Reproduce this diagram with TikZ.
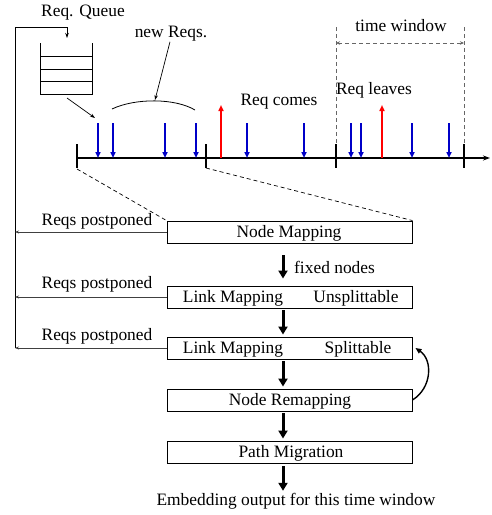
\documentclass[tikz,border=0pt]{standalone}
\usepackage{fontspec}
\setmainfont{Liberation Serif}
\usetikzlibrary{arrows.meta,calc}
\begin{document}
\begin{tikzpicture}[x=1pt,y=-1pt,
  txt/.style={font=\fontsize{17.4}{20}\selectfont, inner sep=0pt},
  box/.style={draw, line width=0.9pt, minimum width=245pt, minimum height=22pt, inner sep=0pt},
  thickarr/.style={line width=3pt, -{Triangle[length=8pt,width=9pt]}},
  bluearr/.style={draw={rgb,255:red,0;green,0;blue,200}, line width=1.5pt, -{Triangle[length=6pt,width=5pt]}},
  redarr/.style={draw=red, line width=1.5pt, -{Triangle[length=6pt,width=5pt]}},
  thinarr/.style={line width=0.7pt, -{Stealth[length=5pt,width=3.5pt]}},
  postarr/.style={draw=black!75, line width=0.8pt, -{Stealth[length=4pt,width=3pt]}},
  projdash/.style={line width=0.7pt, dash pattern=on 4pt off 3pt},
  twdash/.style={draw=black!60, line width=1pt, dash pattern=on 4pt off 3pt},
]
\useasboundingbox (0,0) rectangle (491,515);

% --- queue and feedback line ---
\node[txt] (rq) at (83,13) {Req. Queue};
\coordinate (fbtop) at (15,27);
\coordinate (fbcorner) at (67,27);
\coordinate (qin) at (67,38);
\coordinate (fbbot) at (15,348);
\draw[line width=0.8pt] (fbbot) -- (fbtop) -- (fbcorner);
\draw[thinarr] (fbcorner) -- (qin);
\draw[line width=1pt] (40,43) -- (40,94) -- (92,94) -- (92,43);
\foreach \yy in {56,69,81} \draw[line width=1pt] (40,\yy) -- (92,\yy);
\coordinate (qout) at (67,98);
\coordinate (qtarget) at (95,118);
\draw[thinarr] (qout) -- (qtarget);

% --- new Reqs ---
\node[txt] (nrq) at (171,34) {new Reqs.};
\coordinate (arcpeak) at (155,100);
\draw[line width=0.8pt] (112,109) .. controls (135,98) and (175,98) .. (195,110);
\draw[thinarr] ($(nrq.south)+(-1,0)$) -- (arcpeak);

% --- timeline ---
\coordinate (t0) at (77,158);
\coordinate (tend) at (490,158);
\draw[line width=1.2pt, -{Stealth[length=7pt,width=5pt]}] (t0) -- (tend);
\foreach \xx in {77,206,336,464} \draw[line width=1.2pt] (\xx,144) -- (\xx,168);
\foreach \xx in {98,113,165,196,247,304,351,361,412,449}
  \draw[bluearr] (\xx,123) -- (\xx,158);
\foreach \xx in {221,382}
  \draw[redarr] (\xx,158) -- (\xx,105);
\node[txt] (rc) at (279,102) {Req comes};
\node[txt] (rl) at (374,90) {Req leaves};

% --- time window ---
\node[txt] (tw) at (401,26) {time window};
\draw[twdash] (336,27) -- (336,144);
\draw[twdash] (464,27) -- (464,144);
\coordinate (twl) at (336,43);
\coordinate (twr) at (464,43);
\draw[twdash, {Stealth[length=4pt,width=3.5pt]}-{Stealth[length=4pt,width=3.5pt]}] (twl) -- (twr);

% --- boxes ---
\node[box] (nm) at (289.5,232) {};
\node[box] (lmu) at (289.5,297) {};
\node[box] (lms) at (289.5,348) {};
\node[box] (nr) at (289.5,400) {};
\node[box] (pm) at (289.5,452) {};
\node[txt] at (289,233) {Node Mapping};
\node[txt] at (233,298) {Link Mapping};
\node[txt] at (356,298) {Unsplittable};
\node[txt] at (233,349) {Link Mapping};
\node[txt] at (358,349) {Splittable};
\node[txt] at (290,401) {Node Remapping};
\node[txt] at (291,453) {Path Migration};
\node[txt] (out) at (296,501) {Embedding output for this time window};

% projection dashes
\coordinate (pl) at (77,169);
\coordinate (pr) at (206,168);
\draw[projdash] (pl) -- (nm.north west);
\draw[projdash] (pr) -- (nm.north east);

% flow arrows
\draw[thickarr, shorten <=12pt, shorten >=7pt] ($(nm.south)+(-6.5,0)$) -- ($(lmu.north)+(-6.5,0)$);
\node[txt, anchor=west] (fn) at (294,267) {fixed nodes};
\draw[thickarr, shorten <=2pt, shorten >=2pt] ($(lmu.south)+(-6.5,0)$) -- ($(lms.north)+(-6.5,0)$);
\draw[thickarr, shorten <=2pt, shorten >=2pt] ($(lms.south)+(-6.5,0)$) -- ($(nr.north)+(-6.5,0)$);
\draw[thickarr, shorten <=2pt, shorten >=2pt] ($(nr.south)+(-6.5,0)$) -- ($(pm.north)+(-6.5,0)$);
\draw[thickarr, shorten <=3pt, shorten >=2pt] ($(pm.south)+(-6.5,0)$) -- ($(out.north)+(-13,0)$);

% remap loop
\draw[line width=1.4pt, -{Triangle[length=6pt,width=5pt]}] (nr.east) .. controls (432,388) and (433,360) .. ($(lms.east)+(3,0)$);

% postponed
\draw[postarr] (nm.west) -- (nm.west -| fbtop);
\draw[postarr] (lmu.west) -- (lmu.west -| fbtop);
\draw[postarr] (lms.west) -- (lms.west -| fbtop);
\node[txt] at (97,221) {Reqs postponed};
\node[txt] at (97,284) {Reqs postponed};
\node[txt] at (97,336) {Reqs postponed};
\end{tikzpicture}
\end{document}
